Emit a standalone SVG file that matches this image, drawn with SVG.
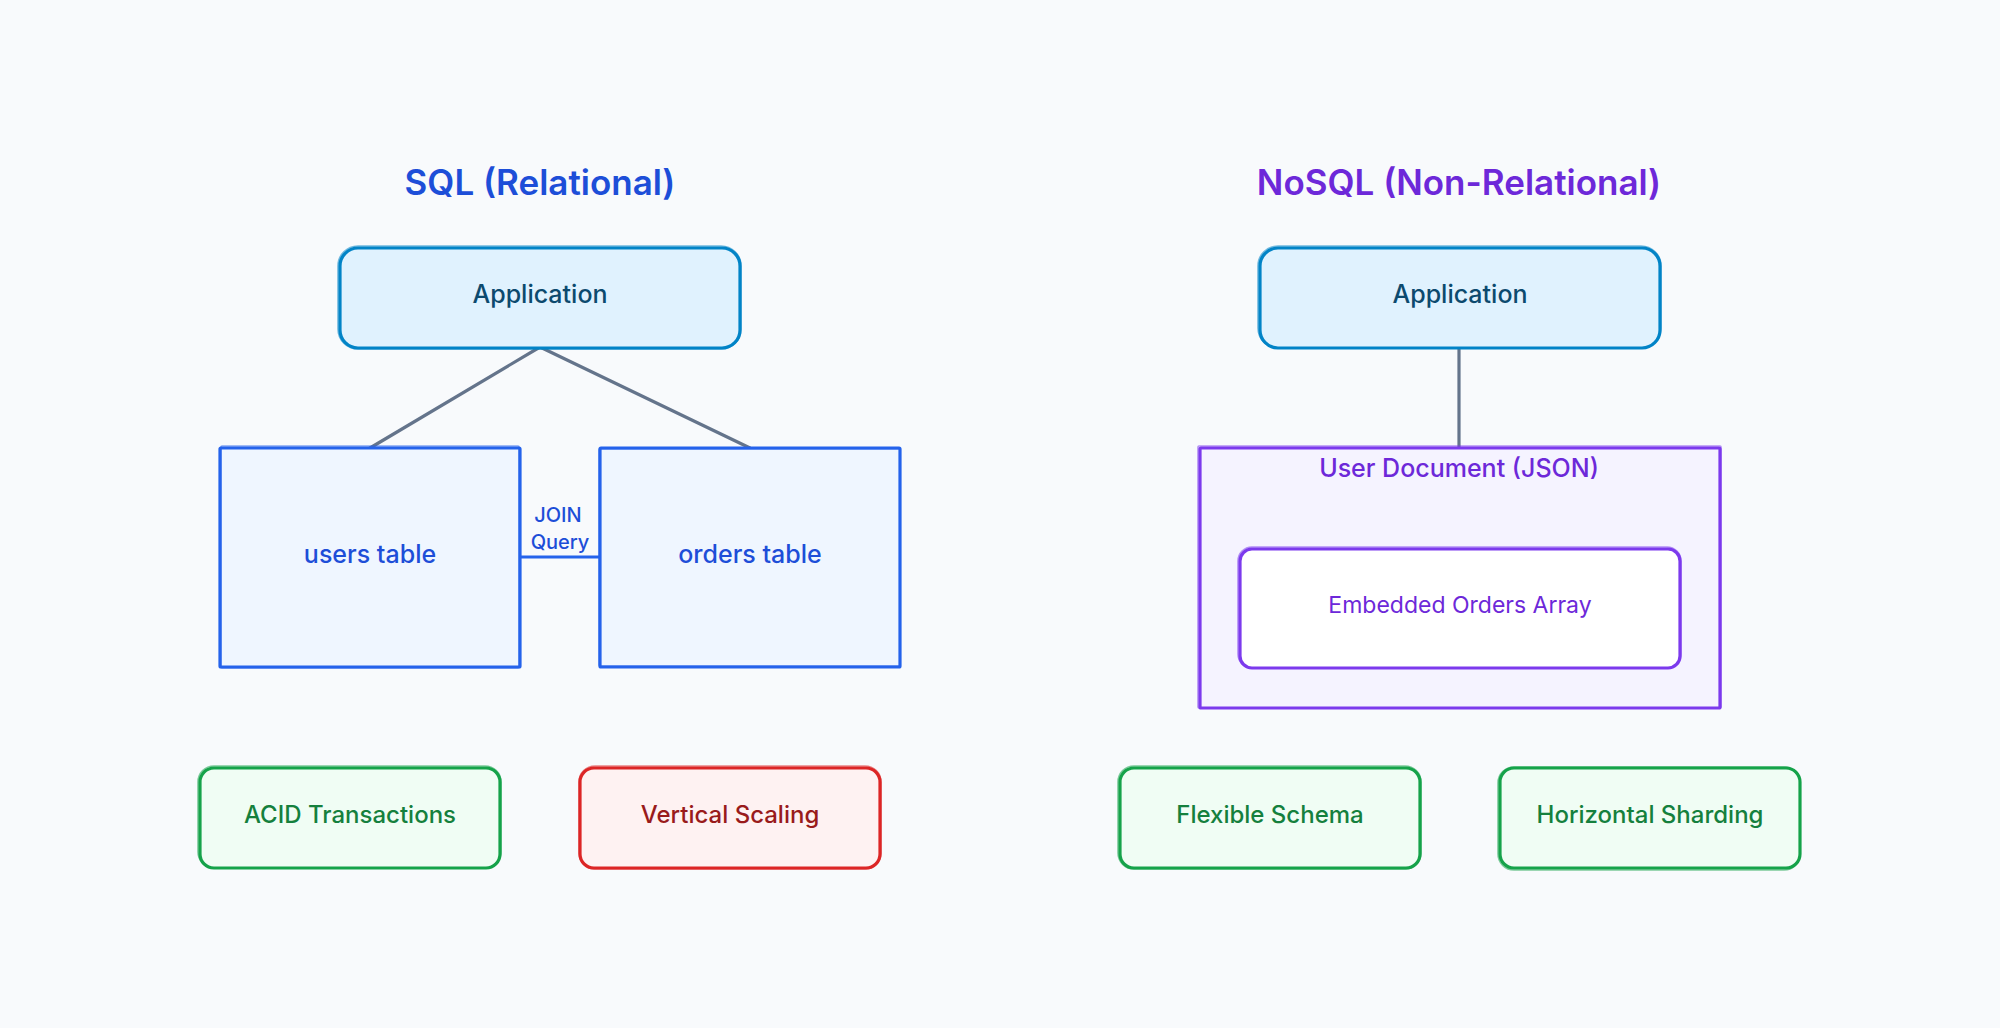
<svg xmlns="http://www.w3.org/2000/svg" width="2000" height="1028" viewBox="0 0 2000 1028">
<style>
text{font-family:Inter,"Noto Sans","Liberation Sans",sans-serif;text-anchor:middle;dominant-baseline:central}
.title{font-size:35px;font-weight:600}
.lbl{font-size:25px;font-weight:500}
.sm{font-size:24px;font-weight:500}
.app rect{fill:#e0f2fe;stroke:#0284c7}
.app text{fill:#0c4a6e}
.tbl rect{fill:#eff6ff;stroke:#2563eb}
.tbl text{fill:#1d4ed8}
.doc rect{fill:#f5f3ff;stroke:#7c3aed}
.doc text{fill:#6d28d9}
.emb rect{fill:#ffffff;stroke:#7c3aed}
.emb text{fill:#6d28d9}
.good rect{fill:#f0fdf4;stroke:#16a34a}
.good text{fill:#15803d}
.bad rect{fill:#fef2f2;stroke:#dc2626}
.bad text{fill:#991b1b}
rect.m{stroke-width:3.2}
rect.s{fill:none !important;stroke-width:1.6;opacity:.55}
.conn line{stroke:#64748b;stroke-width:3.2;stroke-linecap:round}
</style>
<rect width="2000" height="1028" fill="#f8fafc"/>
<text class="title" x="540" y="182" fill="#1d4ed8">SQL (Relational)</text>
<text class="title" x="1459" y="182" fill="#6d28d9">NoSQL (Non-Relational)</text>
<g class="conn">
<line x1="540" y1="347" x2="370" y2="448"/>
<line x1="540" y1="347" x2="750" y2="448"/>
<line x1="1459" y1="348" x2="1459" y2="448"/>
<line x1="521" y1="557" x2="600" y2="557" style="stroke:#2563eb"/>
<text x="558" y="515" style="font-size:20px;font-weight:500;fill:#1d4ed8">JOIN</text>
<text x="560" y="542" style="font-size:20px;font-weight:500;fill:#1d4ed8">Query</text>
</g>
<g id="sql-app" class="app">
<rect class="m" x="340" y="248" width="400" height="100" rx="18"/>
<rect class="s" x="338" y="246" width="403" height="103" rx="20"/>
<text class="lbl" x="540" y="294">Application</text>
</g>
<g id="users" class="tbl">
<rect class="m" x="220" y="448" width="300" height="219" rx="1"/>
<rect class="s" x="221" y="446" width="298" height="222" rx="1"/>
<text class="lbl" x="370" y="554">users table</text>
</g>
<g id="orders" class="tbl">
<rect class="m" x="600" y="448" width="300" height="219" rx="1"/>
<rect class="s" x="599" y="449" width="301" height="217" rx="1"/>
<text class="lbl" x="750" y="554">orders table</text>
</g>
<g id="acid" class="good">
<rect class="m" x="200" y="768" width="300" height="100" rx="14"/>
<rect class="s" x="198" y="766" width="303" height="102" rx="16"/>
<text class="sm" x="350" y="814">ACID Transactions</text>
</g>
<g id="vertical" class="bad">
<rect class="m" x="580" y="768" width="300" height="100" rx="14"/>
<rect class="s" x="579" y="766" width="302" height="103" rx="16"/>
<text class="sm" x="730" y="814">Vertical Scaling</text>
</g>
<g id="nosql-app" class="app">
<rect class="m" x="1260" y="248" width="400" height="100" rx="18"/>
<rect class="s" x="1258" y="246" width="403" height="102" rx="20"/>
<text class="lbl" x="1460" y="294">Application</text>
</g>
<g id="userdoc" class="doc">
<rect class="m" x="1200" y="448" width="520" height="260" rx="1"/>
<rect class="s" x="1198" y="446" width="523" height="262" rx="1"/>
<text x="1459" y="468" style="font-size:25px;font-weight:500">User Document (JSON)</text>
</g>
<g id="embedded" class="emb">
<rect class="m" x="1240" y="549" width="440" height="119" rx="12"/>
<rect class="s" x="1238" y="547" width="443" height="121" rx="14"/>
<text x="1460" y="605" style="font-size:23px;font-weight:400">Embedded Orders Array</text>
</g>
<g id="flexible" class="good">
<rect class="m" x="1120" y="768" width="300" height="100" rx="14"/>
<rect class="s" x="1118" y="766" width="303" height="103" rx="16"/>
<text class="sm" x="1270" y="814">Flexible Schema</text>
</g>
<g id="horizontal" class="good">
<rect class="m" x="1500" y="768" width="300" height="100" rx="14"/>
<rect class="s" x="1498" y="767" width="302" height="103" rx="16"/>
<text class="sm" x="1650" y="814">Horizontal Sharding</text>
</g>
</svg>
